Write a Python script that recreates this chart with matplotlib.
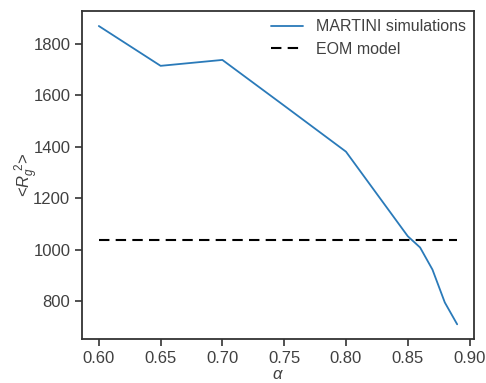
import matplotlib
matplotlib.use("Agg")
import matplotlib.pyplot as plt
import seaborn as sns

alpha = [0.60, 0.65, 0.70, 0.75, 0.80, 0.85, 0.86, 0.87, 0.88, 0.89]
rg2 = [1870, 1715, 1738, 1560, 1381, 1052, 1008, 922, 794, 709]
eom_value = 1038

sns.set_style('ticks')
plt.rcParams['font.family'] = ['Liberation Sans', 'DejaVu Sans']
plt.rcParams['mathtext.fontset'] = 'custom'
plt.rcParams['mathtext.rm'] = 'Liberation Sans'
plt.rcParams['mathtext.it'] = 'Liberation Sans:italic'

txt = '.25'
fig = plt.figure(figsize=(4.86, 3.83), dpi=100)
ax = fig.add_axes([0.169, 0.115, 0.806, 0.856])

ax.plot(alpha, rg2, color='#2a7ab9', lw=1.3, label='MARTINI simulations')
ax.hlines(eom_value, alpha[0], alpha[-1], colors='black', linestyles=(0, (5, 3)),
          lw=1.5, label='EOM model')

ax.set_xlim(0.5865, 0.9035)
ax.set_ylim(652, 1928)
ax.set_xticks([0.60, 0.65, 0.70, 0.75, 0.80, 0.85, 0.90])
ax.set_yticks([800, 1000, 1200, 1400, 1600, 1800])
ax.tick_params(labelsize=12, colors='.2', labelcolor=txt, length=5, width=1.2)
for s in ax.spines.values():
    s.set_linewidth(1.3)
    s.set_color('.2')

ax.set_xlabel(r'$\alpha$', fontsize=12, labelpad=1, color=txt)
ax.set_ylabel(r'<$R_g^{\ 2}$>', fontsize=12, color=txt)
ax.yaxis.set_label_coords(-0.105, 0.5)
leg = ax.legend(frameon=False, fontsize=11.5, loc='upper right', handlelength=2,
                borderaxespad=0.1)
for t in leg.get_texts():
    t.set_color(txt)

fig.savefig('out.png', dpi=100)
